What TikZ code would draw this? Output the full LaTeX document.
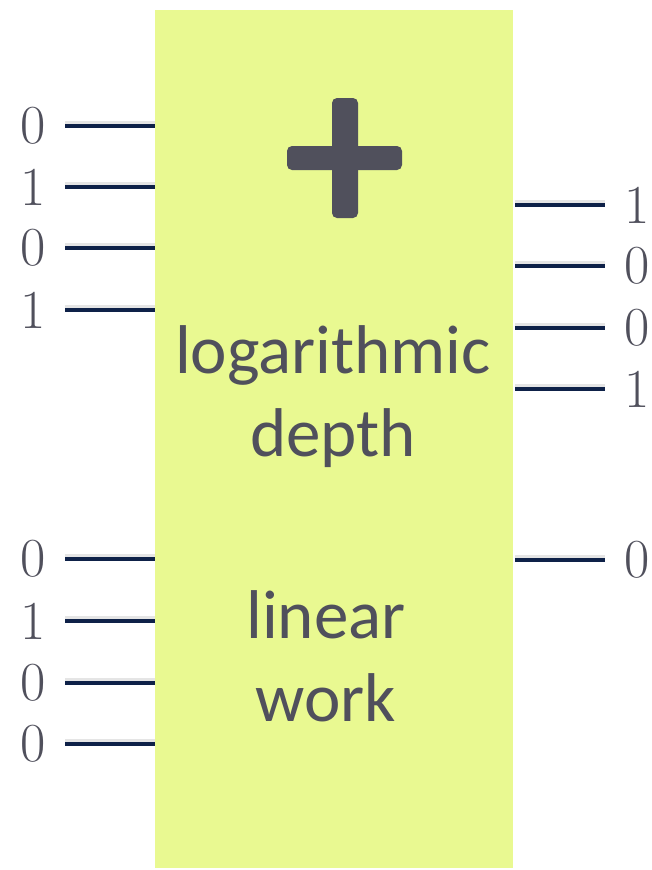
\documentclass[tikz,border=0pt]{standalone}
\usepackage{fontspec}
\newfontfamily\calfont{Carlito}
\usetikzlibrary{positioning,calc}
\definecolor{lime}{RGB}{233,249,145}
\definecolor{navy}{RGB}{14,33,72}
\definecolor{slate}{RGB}{80,80,92}
\tikzset{
  block/.style={fill=lime,draw=none,minimum width=358pt,minimum height=858pt,inner sep=0pt},
  wire/.style={draw=navy,line width=4pt},
  wire shadow/.style={draw=black!10,line width=5pt},
  bit/.style={text=slate,font=\fontsize{55}{60}\selectfont,inner sep=0pt},
  label/.style={text=slate,font=\calfont\fontsize{69}{83}\selectfont,align=center},
}
\begin{document}
\begin{tikzpicture}[x=1pt,y=-1pt]
  \useasboundingbox (0,0) rectangle (652,870);
  \node[block] (box) at (334,439) {};
  % plus sign
  \fill[slate,rounded corners=5pt] (332,98) rectangle (358,218);
  \fill[slate,rounded corners=5pt] (287,146) rectangle (402,170);
  \node[label] (depth) at (333,397) {logarithmic\\depth};
  \node[label] (work) at (326,656) {linear\\work};
  % inputs
  \foreach \i/\y/\t in {1/126/0,2/187/1,3/248/0,4/310/1,5/559/0,6/621/1,7/683/0,8/744/0}
  {
    \node[bit] (in\i) at (33,\y) {\t};
    \coordinate (a\i) at (65,\y);
    \draw[wire shadow] ([yshift=2.5pt]a\i) -- ([yshift=2.5pt]a\i -| box.west);
    \draw[wire] (a\i) -- (a\i -| box.west);
  }
  % outputs
  \foreach \i/\y/\t in {1/205/1,2/266/0,3/328/0,4/389/1,5/560/0}
  {
    \node[bit] (out\i) at (637,\y) {\t};
    \coordinate (b\i) at (605,\y);
    \draw[wire shadow] ([yshift=2.5pt,xshift=2pt]b\i -| box.east) -- ([yshift=2.5pt]b\i);
    \draw[wire] ([xshift=2pt]b\i -| box.east) -- (b\i);
  }
\end{tikzpicture}
\end{document}
